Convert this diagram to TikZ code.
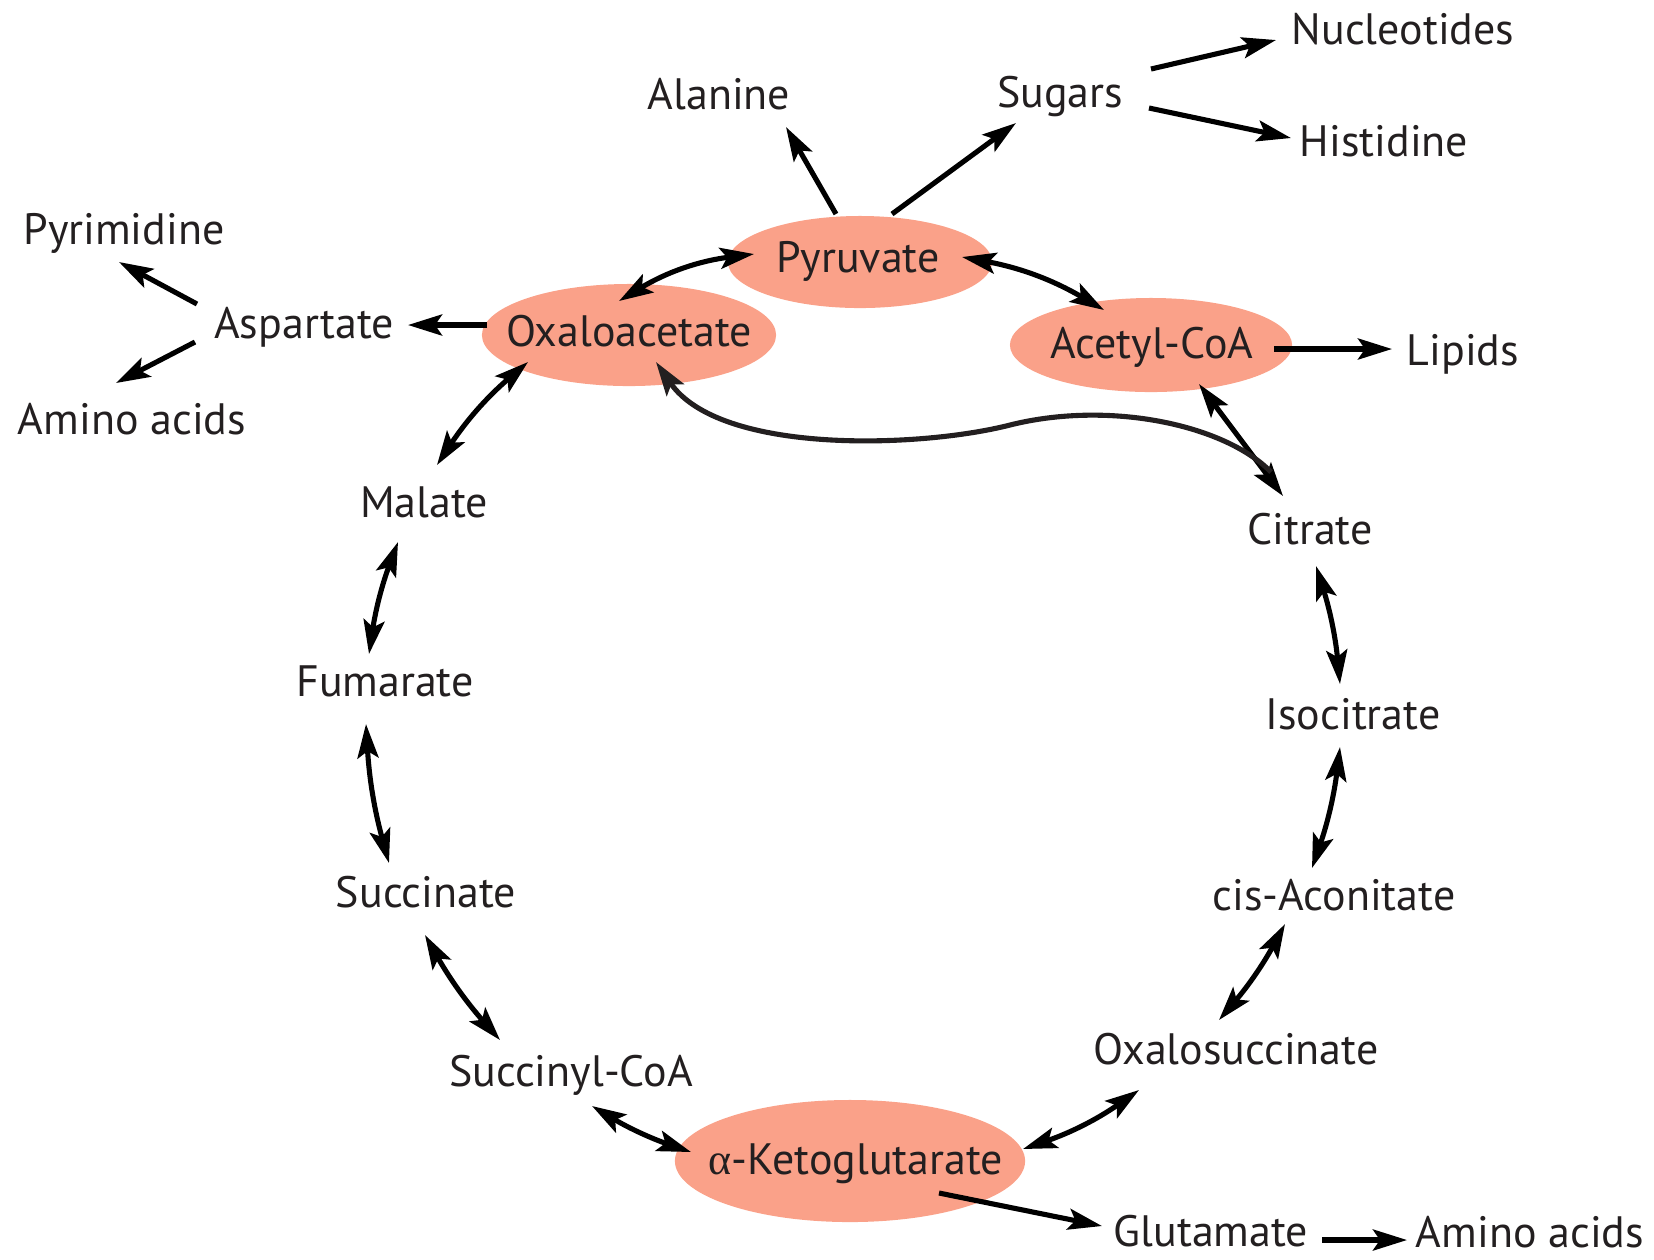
\documentclass[tikz,border=0pt]{standalone}
\usepackage{fontspec}
\setmainfont{PT Sans}
\newfontfamily\grk{Liberation Serif}
\usetikzlibrary{shapes.geometric,arrows.meta,calc}
\definecolor{salmon}{RGB}{250,161,137}
\definecolor{ink}{RGB}{35,31,32}
\begin{document}
\begin{tikzpicture}[x=0.01cm,y=-0.01cm,
  lbl/.style={text=ink,font=\fontsize{12.5}{14}\selectfont,inner sep=0pt,text height=0.84em,text depth=0pt},
  hub/.style={ellipse,fill=salmon,inner sep=0pt},
  flow/.style={line width=1.45pt,-{Stealth[length=0.34cm,width=0.21cm,inset=0.07cm]}},
  both/.style={line width=1.45pt,{Stealth[length=0.34cm,width=0.21cm,inset=0.07cm]}-{Stealth[length=0.34cm,width=0.21cm,inset=0.07cm]}}]
\useasboundingbox (0,0) rectangle (1654,1259);

% hub metabolites: shaded ellipses with their names on top
\node[hub,minimum width=2.64cm,minimum height=0.92cm] (pyr) at (860,262) {};
\node[hub,minimum width=2.94cm,minimum height=1.02cm] (oaa) at (629,335) {};
\node[hub,minimum width=2.82cm,minimum height=0.94cm] (acoa) at (1151,345) {};
\node[hub,minimum width=3.5cm,minimum height=1.22cm] (akg) at (850,1161) {};
\node[lbl] (pyrT) at (858,258) {Pyruvate};
\node[lbl] (oaaT) at (629,332) {Oxaloacetate};
\node[lbl] (acoaT) at (1152,344) {Acetyl-CoA};
\node[lbl] (akgT) at (856,1160) {{\grk α}-Ketoglutarate};

% other metabolites
\node[lbl] (nuc) at (1403,30) {Nucleotides};
\node[lbl] (ala) at (719,95) {Alanine};
\node[lbl] (sug) at (1060,93) {Sugars};
\node[lbl] (his) at (1384,142) {Histidine};
\node[lbl] (pyrim) at (124,230) {Pyrimidine};
\node[lbl] (asp) at (304,324) {Aspartate};
\node[lbl] (lip) at (1463,351) {Lipids};
\node[lbl] (aal) at (132,420) {Amino acids};
\node[lbl] (mal) at (424,503) {Malate};
\node[lbl] (cit) at (1310,530) {Citrate};
\node[lbl] (fum) at (385,682) {Fumarate};
\node[lbl] (iso) at (1353,715) {Isocitrate};
\node[lbl] (succ) at (426,893) {Succinate};
\node[lbl] (cis) at (1334,896) {cis-Aconitate};
\node[lbl] (oxs) at (1236,1050) {Oxalosuccinate};
\node[lbl] (scoa) at (571,1072) {Succinyl-CoA};
\node[lbl] (glu) at (1211,1232) {Glutamate};
\node[lbl] (aar) at (1530,1233) {Amino acids};

% one-way branches
\draw[flow] ($(pyr)+(-24,-48)$) -- ($(ala)+(67,32)$);
\draw[flow] ($(pyr)+(32,-48)$) -- ($(sug)+(-44,30)$);
\draw[flow] ($(sug)+(91,-24)$) -- ($(nuc)+(-127,10)$);
\draw[flow] ($(sug)+(89,15)$) -- ($(his)+(-93,-4)$);
\draw[flow] ($(oaa)+(-142,-10)$) -- ($(asp)+(104,1)$);
\draw[flow] ($(asp)+(-107,-20)$) -- ($(pyrim)+(-5,32)$);
\draw[flow] ($(asp)+(-109,18)$) -- ($(aal)+(-16,-37)$);
\draw[flow] ($(acoa)+(123,4)$) -- ($(lip)+(-71,-2)$);
\draw[flow] ($(akg)+(89,32)$) -- ($(glu)+(-109,-6)$);
\draw[flow] ($(glu)+(111,8)$) -- ($(aar)+(-123,7)$);

% reversible steps
\draw[both] ($(pyr)+(-106,-8)$) to[bend right=12] ($(oaa)+(-10,-34)$);
\draw[both] ($(pyr)+(102,-5)$) to[bend left=10] ($(acoa)+(-47,-35)$);
\draw[both] ($(oaa)+(-101,27)$) to[bend right=8] ($(mal)+(13,-38)$);
\draw[both] ($(mal)+(-26,39)$) to[bend right=6] ($(fum)+(-16,-28)$);
\draw[both] ($(fum)+(-19,42)$) to[bend right=6] ($(succ)+(-37,-30)$);
\draw[both] ($(succ)+(-1,42)$) to[bend right=6] ($(scoa)+(-71,-32)$);
\draw[both] ($(scoa)+(21,34)$) to[bend right=6] ($(akg)+(-159,-9)$);
\draw[both] ($(akg)+(173,-12)$) to[bend right=8] ($(oxs)+(-97,40)$);
\draw[both] ($(oxs)+(-17,-30)$) to[bend right=6] ($(cis)+(-49,28)$);
\draw[both] ($(cis)+(-22,-28)$) to[bend right=6] ($(iso)+(-13,32)$);
\draw[both] ($(iso)+(-13,-31)$) to[bend right=6] ($(cit)+(6,36)$);
\draw[both] ($(cit)+(-27,-34)$) -- ($(acoa)+(48,39)$);

% return path from citrate to oxaloacetate
\draw[flow,draw=ink] ($(cit)+(-39,-58)$) .. controls (1225,425) and (1110,400) .. (1010,425)
  .. controls (920,448) and (720,455) .. ($(oaa)+(27,27)$);
\end{tikzpicture}
\end{document}
